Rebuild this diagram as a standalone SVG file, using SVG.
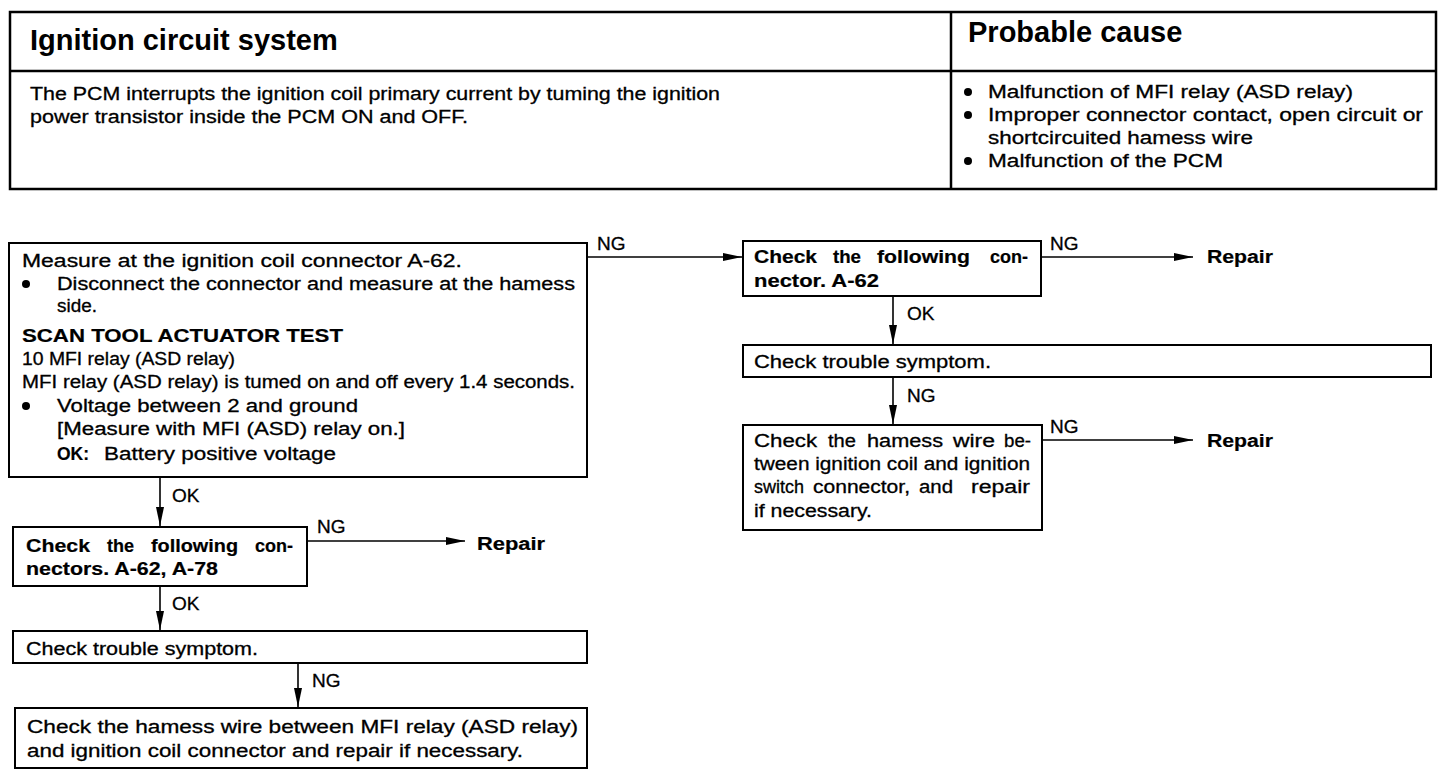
<svg xmlns="http://www.w3.org/2000/svg" width="1456" height="776" viewBox="0 0 1456 776">
<defs>
<style>
.t{font-family:"Liberation Sans",Arial,Helvetica,sans-serif;font-size:18px;fill:#000;stroke:#000;stroke-width:0.3}
.b{font-weight:bold;stroke-width:0.2}
.h{font-family:"Liberation Sans",Arial,Helvetica,sans-serif;font-size:29px;font-weight:bold;fill:#000}
.lb{font-family:"Liberation Sans",Arial,Helvetica,sans-serif;font-size:19px;fill:#000;stroke:#000;stroke-width:0.3}
.box{fill:#fff;stroke:#000;stroke-width:2}
.tbl{fill:none;stroke:#000;stroke-width:2.5}
.con{fill:none;stroke:#000;stroke-width:1.6}
</style>
<marker id="ah" markerUnits="userSpaceOnUse" markerWidth="20" markerHeight="9" refX="19" refY="4.5" orient="auto">
<path d="M0,0.5 L19,4.5 L0,8.5 Z" fill="#000"/>
</marker>
</defs>
<rect width="1456" height="776" fill="#fff"/>

<g id="header-table">
<rect class="tbl" x="10" y="12" width="1426" height="177"/>
<line class="tbl" x1="10" y1="71" x2="1436" y2="71"/>
<line class="tbl" x1="951" y1="12" x2="951" y2="189"/>
<text class="h" x="30" y="50">Ignition circuit system</text>
<text class="h" x="968" y="42">Probable cause</text>
<text class="t" x="30" y="100" textLength="690" lengthAdjust="spacingAndGlyphs">The PCM interrupts the ignition coil primary current by tuming the ignition</text>
<text class="t" x="30" y="123" textLength="438" lengthAdjust="spacingAndGlyphs">power transistor inside the PCM ON and OFF.</text>
<circle cx="968" cy="92" r="4"/>
<text class="t" x="988" y="98" textLength="365" lengthAdjust="spacingAndGlyphs">Malfunction of MFI relay (ASD relay)</text>
<circle cx="968" cy="115" r="4"/>
<text class="t" x="988" y="121" textLength="435" lengthAdjust="spacingAndGlyphs">Improper connector contact, open circuit or</text>
<text class="t" x="988" y="144" textLength="265" lengthAdjust="spacingAndGlyphs">shortcircuited hamess wire</text>
<circle cx="968" cy="161" r="4"/>
<text class="t" x="988" y="167" textLength="235" lengthAdjust="spacingAndGlyphs">Malfunction of the PCM</text>
</g>

<g id="connectors">
<line class="con" x1="587" y1="257" x2="742" y2="257" marker-end="url(#ah)"/>
<text class="lb" x="597" y="250">NG</text>
<line class="con" x1="1041" y1="257" x2="1193" y2="257" marker-end="url(#ah)"/>
<text class="lb" x="1050" y="250">NG</text>
<line class="con" x1="893" y1="296" x2="893" y2="344" marker-end="url(#ah)"/>
<text class="lb" x="907" y="320">OK</text>
<line class="con" x1="893" y1="377" x2="893" y2="424" marker-end="url(#ah)"/>
<text class="lb" x="907" y="402">NG</text>
<line class="con" x1="1042" y1="440" x2="1193" y2="440" marker-end="url(#ah)"/>
<text class="lb" x="1050" y="433">NG</text>
<line class="con" x1="160" y1="477" x2="160" y2="526" marker-end="url(#ah)"/>
<text class="lb" x="172" y="502">OK</text>
<line class="con" x1="307" y1="541" x2="465" y2="541" marker-end="url(#ah)"/>
<text class="lb" x="317" y="533">NG</text>
<line class="con" x1="160" y1="586" x2="160" y2="630" marker-end="url(#ah)"/>
<text class="lb" x="172" y="610">OK</text>
<line class="con" x1="298" y1="663" x2="298" y2="707" marker-end="url(#ah)"/>
<text class="lb" x="312" y="687">NG</text>
</g>

<g id="measure-box">
<rect class="box" x="9" y="243" width="578" height="234"/>
<text class="t" x="22" y="267" textLength="440" lengthAdjust="spacingAndGlyphs">Measure at the ignition coil connector A-62.</text>
<circle cx="26" cy="284" r="4"/>
<text class="t" x="57" y="290" textLength="518" lengthAdjust="spacingAndGlyphs">Disconnect the connector and measure at the hamess</text>
<text class="t" x="57" y="312" textLength="40" lengthAdjust="spacingAndGlyphs">side.</text>
<text class="t b" x="22" y="342" textLength="321" lengthAdjust="spacingAndGlyphs">SCAN TOOL ACTUATOR TEST</text>
<text class="t" x="22" y="365" textLength="213" lengthAdjust="spacingAndGlyphs">10 MFI relay (ASD relay)</text>
<text class="t" x="22" y="388" textLength="553" lengthAdjust="spacingAndGlyphs">MFI relay (ASD relay) is tumed on and off every 1.4 seconds.</text>
<circle cx="26" cy="406" r="4"/>
<text class="t" x="57" y="412" textLength="301" lengthAdjust="spacingAndGlyphs">Voltage between 2 and ground</text>
<text class="t" x="57" y="435" textLength="348" lengthAdjust="spacingAndGlyphs">[Measure with MFI (ASD) relay on.]</text>
<text class="t b" x="57" y="460" textLength="32" lengthAdjust="spacingAndGlyphs">OK:</text>
<text class="t" x="104" y="460" textLength="232" lengthAdjust="spacingAndGlyphs">Battery positive voltage</text>
</g>

<g id="check-connector-a62">
<rect class="box" x="743" y="241" width="298" height="55"/>
<text class="t b" x="754" y="263" textLength="63" lengthAdjust="spacingAndGlyphs">Check</text>
<text class="t b" x="833" y="263" textLength="28" lengthAdjust="spacingAndGlyphs">the</text>
<text class="t b" x="877" y="263" textLength="93" lengthAdjust="spacingAndGlyphs">following</text>
<text class="t b" x="990" y="263" textLength="38" lengthAdjust="spacingAndGlyphs">con-</text>
<text class="t b" x="754" y="287" textLength="125" lengthAdjust="spacingAndGlyphs">nector. A-62</text>
</g>

<g id="repair-1">
<text class="t b" x="1207" y="263" textLength="66" lengthAdjust="spacingAndGlyphs">Repair</text>
</g>

<g id="trouble-symptom-right">
<rect class="box" x="743" y="345" width="688" height="32"/>
<text class="t" x="754" y="368" textLength="237" lengthAdjust="spacingAndGlyphs">Check trouble symptom.</text>
</g>

<g id="check-harness-ignition">
<rect class="box" x="743" y="425" width="299" height="105"/>
<text class="t" x="754" y="447" textLength="63" lengthAdjust="spacingAndGlyphs">Check</text>
<text class="t" x="828" y="447" textLength="28" lengthAdjust="spacingAndGlyphs">the</text>
<text class="t" x="867" y="447" textLength="76" lengthAdjust="spacingAndGlyphs">hamess</text>
<text class="t" x="953" y="447" textLength="42" lengthAdjust="spacingAndGlyphs">wire</text>
<text class="t" x="1004" y="447" textLength="27" lengthAdjust="spacingAndGlyphs">be-</text>
<text class="t" x="754" y="470" textLength="276" lengthAdjust="spacingAndGlyphs">tween ignition coil and ignition</text>
<text class="t" x="754" y="493" textLength="50" lengthAdjust="spacingAndGlyphs">switch</text>
<text class="t" x="813" y="493" textLength="97" lengthAdjust="spacingAndGlyphs">connector,</text>
<text class="t" x="919" y="493" textLength="34" lengthAdjust="spacingAndGlyphs">and</text>
<text class="t" x="971" y="493" textLength="59" lengthAdjust="spacingAndGlyphs">repair</text>
<text class="t" x="754" y="517" textLength="118" lengthAdjust="spacingAndGlyphs">if necessary.</text>
</g>

<g id="repair-2">
<text class="t b" x="1207" y="447" textLength="66" lengthAdjust="spacingAndGlyphs">Repair</text>
</g>

<g id="check-connectors-a62-a78">
<rect class="box" x="13" y="527" width="294" height="59"/>
<text class="t b" x="26" y="552" textLength="64" lengthAdjust="spacingAndGlyphs">Check</text>
<text class="t b" x="107" y="552" textLength="27" lengthAdjust="spacingAndGlyphs">the</text>
<text class="t b" x="151" y="552" textLength="87" lengthAdjust="spacingAndGlyphs">following</text>
<text class="t b" x="255" y="552" textLength="38" lengthAdjust="spacingAndGlyphs">con-</text>
<text class="t b" x="26" y="575" textLength="192" lengthAdjust="spacingAndGlyphs">nectors. A-62, A-78</text>
</g>

<g id="repair-3">
<text class="t b" x="477" y="550" textLength="68" lengthAdjust="spacingAndGlyphs">Repair</text>
</g>

<g id="trouble-symptom-left">
<rect class="box" x="13" y="631" width="574" height="32"/>
<text class="t" x="26" y="655" textLength="232" lengthAdjust="spacingAndGlyphs">Check trouble symptom.</text>
</g>

<g id="check-harness-mfi">
<rect class="box" x="15" y="708" width="572" height="60"/>
<text class="t" x="27" y="733" textLength="551" lengthAdjust="spacingAndGlyphs">Check the hamess wire between MFI relay (ASD relay)</text>
<text class="t" x="27" y="757" textLength="496" lengthAdjust="spacingAndGlyphs">and ignition coil connector and repair if necessary.</text>
</g>
</svg>
